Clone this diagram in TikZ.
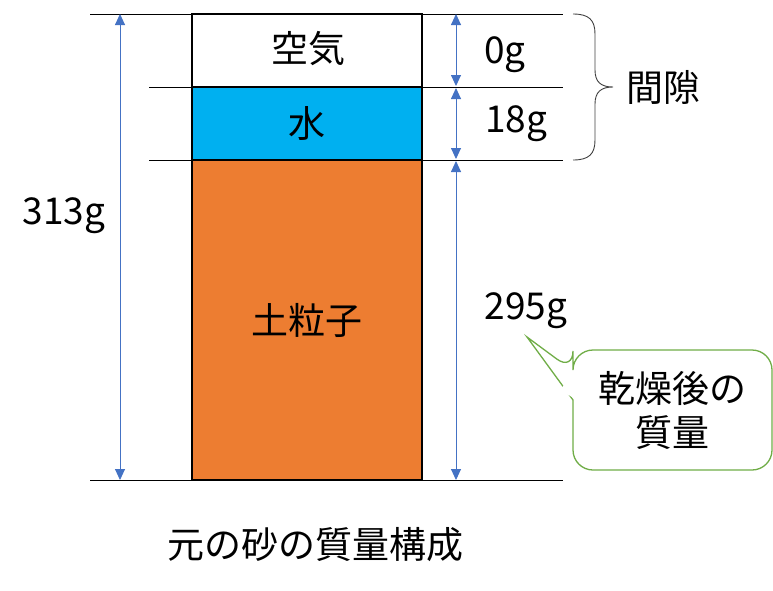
\documentclass[tikz,border=0pt]{standalone}
\usepackage{fontspec}
\setmainfont{Noto Sans CJK JP}
\usetikzlibrary{arrows.meta}
\definecolor{aircol}{HTML}{FFFFFF}
\definecolor{watercol}{HTML}{00B0F0}
\definecolor{soilcol}{HTML}{ED7D31}
\definecolor{dimblue}{HTML}{4472C4}
\definecolor{callgreen}{HTML}{70AD47}
\tikzset{
  lbl/.style={font=\fontsize{37}{44}\selectfont, inner sep=0pt},
  guide/.style={draw=black, line width=0.9pt},
  layer/.style={draw=black, line width=2.2pt},
  dim/.style={draw=dimblue, line width=0.9pt, {Triangle[width=10pt,length=11pt]}-{Triangle[width=10pt,length=11pt]}},
}
\begin{document}
\begin{tikzpicture}[x=1pt,y=-1pt]
\useasboundingbox (0,0) rectangle (773,590);
% guide lines
\coordinate (g0a) at (90,14);  \coordinate (g0b) at (563,14);
\coordinate (g1a) at (149,87); \coordinate (g1b) at (563,87);
\coordinate (g2a) at (149,160);\coordinate (g2b) at (563,160);
\coordinate (g3a) at (90,480); \coordinate (g3b) at (563,480);
\draw[guide] (g0a) -- (g0b);
\draw[guide] (g1a) -- (g1b);
\draw[guide] (g2a) -- (g2b);
\draw[guide] (g3a) -- (g3b);
% layers
\fill[soilcol] (192,160) rectangle (422,480);
\fill[watercol] (192,87) rectangle (422,160);
\fill[aircol] (192,14) rectangle (422,87);
\draw[layer] (192,14) rectangle (422,480);
\draw[layer] (192,87) -- (422,87);
\draw[layer] (192,160) -- (422,160);
\node[lbl] (air) at (308,49) {空気};
\node[lbl] (water) at (307,123) {水};
\node[lbl] (soil) at (307,320) {土粒子};
% dimension arrows
\coordinate (L0) at (120,14); \coordinate (L1) at (120,480);
\draw[dim] (L0) -- (L1);
\coordinate (R0) at (456,14); \coordinate (R1) at (456,86);
\coordinate (R2) at (456,88); \coordinate (R3) at (456,159);
\coordinate (R4) at (456,161); \coordinate (R5) at (456,480);
\draw[dim] (R0) -- (R1);
\draw[dim] (R2) -- (R3);
\draw[dim] (R4) -- (R5);
\node[lbl] (m313) at (64,216) {313g};
\node[lbl] (m0) at (505,55) {0g};
\node[lbl] (m18) at (516,124) {18g};
\node[lbl] (m295) at (526,311) {295g};
% brace
\draw[draw=black!75, line width=0.9pt] (573,14) .. controls (589,14) and (595,20) .. (595,34) -- (595,70)
  .. controls (595,82) and (601,87) .. (613,87)
  .. controls (601,87) and (595,92) .. (595,104) -- (595,140)
  .. controls (595,154) and (589,160) .. (573,160);
\node[lbl] (gap) at (663,87) {間隙};
% callout
\draw[draw=callgreen, line width=1.3pt, fill=white, rounded corners=20pt]
  (573,400) -- (573,470) -- (772,470) -- (772,350) -- (573,350) -- (573,371) [sharp corners] -- (527,337) -- cycle;
\fill[white] (574.5,372) -- (574.5,398.5) -- (560,390) -- cycle;
\node[lbl, align=center] (note) at (672,410) {乾燥後の\\質量};
% caption
\node[lbl] (cap) at (315,545) {元の砂の質量構成};
\end{tikzpicture}
\end{document}
